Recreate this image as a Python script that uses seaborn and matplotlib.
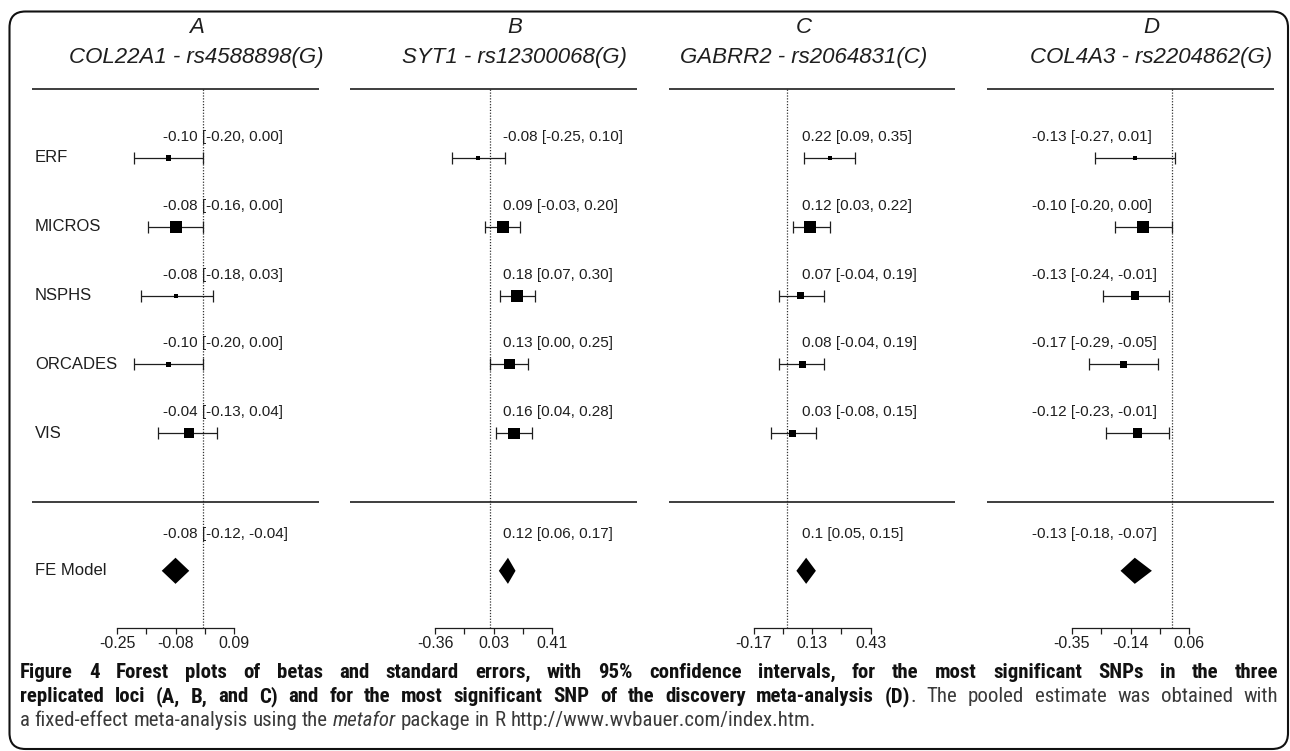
import numpy as np
import pandas as pd
import matplotlib
matplotlib.use("Agg")
import matplotlib.pyplot as plt
import seaborn as sns
from matplotlib import font_manager
from matplotlib.patches import FancyBboxPatch
from matplotlib.transforms import IdentityTransform, blended_transform_factory

# ---------------------------------------------------------------- data
studies = ["ERF", "MICROS", "NSPHS", "ORCADES", "VIS"]
panel_letters = ["A", "B", "C", "D"]
panel_loci = ["COL22A1 - rs4588898(G)", "SYT1 - rs12300068(G)",
              "GABRR2 - rs2064831(C)", "COL4A3 - rs2204862(G)"]

est_A = [-0.10, -0.08, -0.08, -0.10, -0.04]
lb_A = [-0.20, -0.16, -0.18, -0.20, -0.13]
ub_A = [0.00, 0.00, 0.03, 0.00, 0.04]

est_B = [-0.08, 0.09, 0.18, 0.13, 0.16]
lb_B = [-0.25, -0.03, 0.07, 0.00, 0.04]
ub_B = [0.10, 0.20, 0.30, 0.25, 0.28]

est_C = [0.22, 0.12, 0.07, 0.08, 0.03]
lb_C = [0.09, 0.03, -0.04, -0.04, -0.08]
ub_C = [0.35, 0.22, 0.19, 0.19, 0.15]

est_D = [-0.13, -0.10, -0.13, -0.17, -0.12]
lb_D = [-0.27, -0.20, -0.24, -0.29, -0.23]
ub_D = [0.01, 0.00, -0.01, -0.05, -0.01]

fe_est_text = ["-0.08", "0.12", "0.1", "-0.13"]
fe_lb = [-0.12, 0.06, 0.05, -0.18]
fe_ub = [-0.04, 0.17, 0.15, -0.07]

axis_lo = [-0.25, -0.36, -0.17, -0.35]
axis_hi = [0.09, 0.41, 0.43, 0.06]
tick_labels = [["-0.25", "-0.08", "0.09"],
               ["-0.36", "0.03", "0.41"],
               ["-0.17", "0.13", "0.43"],
               ["-0.35", "-0.14", "0.06"]]

panels = [(est_A, lb_A, ub_A), (est_B, lb_B, ub_B),
          (est_C, lb_C, ub_C), (est_D, lb_D, ub_D)]

caption_lines = [
    [("Figure 4 Forest plots of betas and standard errors, with 95% confidence "
      "intervals, for the most significant SNPs in the three", "bold", "normal")],
    [("replicated loci (A, B, and C) and for the most significant SNP of the "
      "discovery meta-analysis (D)", "bold", "normal"),
     (". The pooled estimate was obtained with", "normal", "normal")],
    [("a fixed-effect meta-analysis using the ", "normal", "normal"),
     ("metafor", "normal", "italic"),
     (" package in R http://www.wvbauer.com/index.htm.", "normal", "normal")],
]

# ---------------------------------------------------------------- layout
W, H, DPI = 1290, 751, 100
sns.set_theme(style="white")
plt.rcParams["font.family"] = ["Liberation Sans", "DejaVu Sans"]
INK = "#1e1e1e"

fig = plt.figure(figsize=(W / DPI, H / DPI), dpi=DPI)
fig.patch.set_facecolor("white")

panel_left = [32, 350, 668.5, 987]
panel_width = 286.5
axis_off_lo, axis_off_hi = 85.0, 202.0      # pixel offsets of the axis ends
ax_top_px, ax_bot_px = 10.0, 628.0
row_px, row_step = 158.0, 68.8               # first study row and spacing
ann_off = [131, 153, 134, 45]                # annotation column, px from panel left
title_shift = [21, 21, -8, 21]

rows = [8, 7, 6, 5, 4]
fe_row = 2
y_top = 8 + (row_px - ax_top_px) / row_step
y_bot = 8 - (ax_bot_px - row_px) / row_step

base_side_pt = 8 * 72 / DPI                  # square side for the mid weight

for i, (est, lb, ub) in enumerate(panels):
    lo, hi = axis_lo[i], axis_hi[i]
    scale = (axis_off_hi - axis_off_lo) / (hi - lo)     # px per unit
    x_left = lo - axis_off_lo / scale
    x_right = lo + (panel_width - axis_off_lo) / scale

    ax = fig.add_axes([panel_left[i] / W, (H - ax_bot_px) / H,
                       panel_width / W, (ax_bot_px - ax_top_px) / H])
    ax.set_xlim(x_left, x_right)
    ax.set_ylim(y_bot, y_top)
    ax.set_facecolor("none")

    df = pd.DataFrame({"study": studies, "est": est, "lb": lb, "ub": ub,
                       "row": rows})
    # inverse-SE weights rescaled to 0.5..1.5 for the square sizes
    se = (df["ub"] - df["lb"]) / 3.92
    w = 1 / se
    df["psize"] = 0.5 + (w - w.min()) / (w.max() - w.min())
    df["area"] = df["psize"] ** 2

    ax.errorbar(df["est"], df["row"],
                xerr=[df["est"] - df["lb"], df["ub"] - df["est"]],
                fmt="none", ecolor=INK, elinewidth=0.9, capsize=4.5,
                capthick=0.9, zorder=2)
    sns.scatterplot(data=df, x="est", y="row", size="area",
                    sizes=((0.5 * base_side_pt) ** 2, (1.5 * base_side_pt) ** 2),
                    size_norm=(0.25, 2.25), marker="s", color="black",
                    linewidth=0, legend=False, ax=ax, zorder=3)

    # pooled estimate diamond
    fe = float(fe_est_text[i])
    h = 0.19
    ax.fill([fe_lb[i], fe, fe_ub[i], fe], [fe_row, fe_row + h, fe_row, fe_row - h],
            color="black", lw=0, zorder=3)

    # reference line at zero and the two separators
    ax.vlines(0, y_bot, 9, colors="#333333", linestyles=(0, (1, 1.3)),
              linewidth=0.9, zorder=1)
    ax.axhline(9, color=INK, lw=1.2)
    ax.axhline(3, color=INK, lw=1.2)

    # annotations
    ann_x = x_left + ann_off[i] / scale
    for _, r in df.iterrows():
        ax.text(ann_x, r["row"] + 0.305,
                f"{r['est']:.2f} [{r['lb']:.2f}, {r['ub']:.2f}]",
                fontsize=11, color=INK, ha="left", va="center")
    ax.text(ann_x, fe_row + 0.54,
            f"{fe_est_text[i]} [{fe_lb[i]:.2f}, {fe_ub[i]:.2f}]",
            fontsize=11, color=INK, ha="left", va="center")

    if i == 0:
        tr = blended_transform_factory(ax.transAxes, ax.transData)
        for s, r in zip(studies, rows):
            ax.text(3 / panel_width, r, s, transform=tr, fontsize=12,
                    color=INK, ha="left", va="center")
        ax.text(3 / panel_width, fe_row, "FE Model", transform=tr,
                fontsize=12, color=INK, ha="left", va="center")

    # titles
    tx = 0.5 + title_shift[i] / panel_width
    ax.text(tx, 8 + (row_px - 28) / row_step, panel_letters[i],
            transform=blended_transform_factory(ax.transAxes, ax.transData),
            fontsize=16, fontstyle="italic", color=INK, ha="center", va="center")
    ax.text(tx, 8 + (row_px - 58) / row_step, panel_loci[i],
            transform=blended_transform_factory(ax.transAxes, ax.transData),
            fontsize=16, fontstyle="italic", color=INK, ha="center", va="center")

    # x axis
    ticks = np.linspace(lo, hi, 5)
    labels = [tick_labels[i][0], "", tick_labels[i][1], "", tick_labels[i][2]]
    ax.set_xticks(ticks)
    ax.set_xticklabels(labels)
    ax.set_yticks([])
    ax.set_xlabel("")
    ax.set_ylabel("")
    for side in ("left", "right", "top"):
        ax.spines[side].set_visible(False)
    ax.spines["bottom"].set_bounds(lo, hi)
    ax.spines["bottom"].set_color(INK)
    ax.spines["bottom"].set_linewidth(0.9)
    ax.tick_params(axis="x", direction="out", length=4.5, width=0.9,
                   colors=INK, labelsize=11.5, pad=1.5, bottom=True)

# ---------------------------------------------------------------- caption
names = {f.name for f in font_manager.fontManager.ttflist}
cap_family = next((n for n in ["Liberation Sans Narrow", "Roboto Condensed",
                               "Open Sans Condensed"] if n in names), None)
cap_stretch = "normal"
if cap_family is None:
    cap_family, cap_stretch = "DejaVu Sans", "condensed"

renderer = fig.canvas.get_renderer()


def tokens_of(runs):
    toks = []
    prev_ends_space = True
    for k, (text, weight, style) in enumerate(runs):
        first = True
        for p in text.split(" "):
            if p == "":
                continue
            space_before = True
            if first and k > 0 and not text.startswith(" ") and not prev_ends_space:
                space_before = False
            toks.append((p, weight, style, space_before))
            first = False
        prev_ends_space = text.endswith(" ")
    return toks


def text_width(s, size, weight="normal", style="normal"):
    t = fig.text(0, 0, s, fontsize=size, fontweight=weight, fontstyle=style,
                 family=cap_family, fontstretch=cap_stretch,
                 transform=IdentityTransform())
    wdt = t.get_window_extent(renderer).width
    t.remove()
    return wdt


def draw_line(runs, x0, y_px, size, width=None):
    toks = tokens_of(runs)
    arts = []
    for text, weight, style, _ in toks:
        arts.append(fig.text(0, 0, text, fontsize=size, fontweight=weight,
                             fontstyle=style, family=cap_family,
                             fontstretch=cap_stretch,
                             color="#111111" if weight == "bold" else "#3a3a3a",
                             transform=IdentityTransform(), ha="left",
                             va="center"))
    widths = [a.get_window_extent(renderer).width for a in arts]
    space = text_width("a a", size) - text_width("aa", size)
    n_gaps = sum(1 for t in toks[1:] if t[3])
    gap = space
    if width is not None and n_gaps:
        gap = (width - sum(widths)) / n_gaps
    x = x0
    for k, (a, wdt, tok) in enumerate(zip(arts, widths, toks)):
        if k > 0 and tok[3]:
            x += gap
        a.set_position((x, H - y_px))
        x += wdt


# caption size chosen so the first line nearly fills the text block
cap_x0, cap_x1 = 20, 1278
nat = text_width(caption_lines[0][0][0], 12, weight="bold")
cap_size = min(15, 12 * (cap_x1 - cap_x0) / nat * 0.99)

draw_line(caption_lines[0], cap_x0, 672, cap_size, width=cap_x1 - cap_x0)
draw_line(caption_lines[1], cap_x0, 697, cap_size, width=cap_x1 - cap_x0)
draw_line(caption_lines[2], cap_x0, 721, cap_size)

# rounded frame around the figure
frame = FancyBboxPatch((9.5, 2), 1288 - 9.5, H - 11.5 - 2,
                       boxstyle="round,pad=0,rounding_size=16",
                       transform=IdentityTransform(), fill=False,
                       edgecolor="#111111", linewidth=1.5)
fig.add_artist(frame)

fig.savefig("out.png", dpi=DPI, facecolor="white")
